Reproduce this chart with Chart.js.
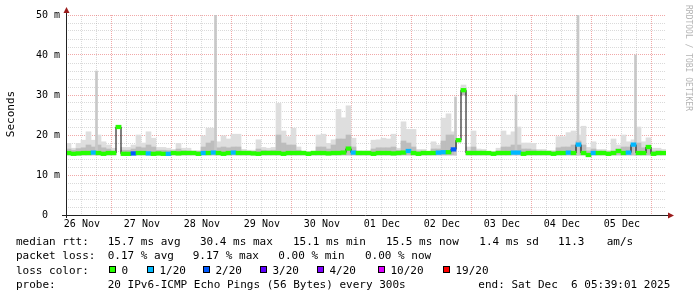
<!DOCTYPE html>
<html>
<head>
<meta charset="utf-8">
<script src="https://cdn.jsdelivr.net/npm/chart.js@4.4.1/dist/chart.umd.min.js"></script>
<style>
  html, body { margin: 0; padding: 0; background: #fff; }
  canvas { display: block; }
</style>
</head>
<body>
<canvas id="chart" width="697" height="297"></canvas>
<script>
// 10 day window ending Sat Dec 6 05:39:01 2025; x axis is hours since the start
const spanHours = 240;
const binHours = 2;
const firstNoon = 6.35; // 26 Nov 12:00
const dayLabels = ['26 Nov', '27 Nov', '28 Nov', '29 Nov', '30 Nov', '01 Dec', '02 Dec', '03 Dec', '04 Dec', '05 Dec'];

// smoke per 2h bin (ms): lowest ping, inner quantile, highest ping
const smokeLow = [
  15, 15, 15, 15, 15, 15, 15, 15, 15, 15,
  21.6, 15, 15, 15, 15, 15, 15, 15, 15, 15,
  15, 15, 15, 15, 15, 15, 15, 15, 15, 15,
  15, 15, 15, 15, 15, 15, 15, 15, 15, 15,
  15, 15, 15, 15, 15, 15, 15, 15, 15, 15,
  15, 15, 15, 15, 15, 15, 15, 15, 15, 15,
  15, 15, 15, 15, 15, 15, 15, 15, 15, 15,
  15, 15, 15, 15, 15, 15, 15, 15, 18.3, 30,
  15, 15, 15, 15, 15, 15, 15, 15, 15, 15,
  15, 15, 15, 15, 15, 15, 15, 15, 15, 15,
  15, 15, 15, 15, 15, 15, 15, 15, 15, 15,
  15, 15, 15, 15, 15, 15, 15, 15, 15, 15
];
const smokeMid = [
  16.5, 16.2, 16.6, 16.8, 17.5, 17.0, 17.5, 16.8, 16.5, 16.0,
  22.3, 16.2, 16.2, 16.5, 17.0, 16.8, 17.5, 17.0, 16.2, 16.2,
  16.1, 16.0, 16.5, 16.1, 16.0, 15.9, 15.9, 17.0, 18.0, 18.5,
  16.8, 17.0, 16.8, 17.0, 17.0, 16.0, 15.9, 15.9, 16.5, 16.2,
  16.1, 16.2, 20.0, 18.0, 17.5, 17.5, 16.2, 15.8, 15.7, 15.8,
  17.0, 17.0, 16.5, 17.5, 19.0, 19.0, 20.0, 17.0, 15.8, 15.8,
  15.8, 16.5, 16.8, 16.8, 16.8, 17.0, 16.2, 18.5, 18.0, 17.0,
  16.0, 16.0, 15.7, 16.5, 16.5, 18.5, 20.0, 20.0, 18.9, 31.5,
  16.0, 17.0, 16.0, 16.0, 15.7, 15.7, 16.0, 17.0, 17.0, 17.5,
  17.5, 16.5, 16.5, 16.3, 16.0, 16.0, 15.8, 15.8, 16.8, 17.0,
  17.0, 17.5, 18.5, 17.5, 16.0, 16.5, 16.0, 16.0, 15.8, 16.0,
  16.5, 17.0, 17.0, 17.5, 18.0, 16.8, 17.0, 16.0, 16.0, 15.9
];
const smokeMax = [
  17.9, 16.7, 17.9, 18.7, 20.8, 18.7, 20.0, 18.3, 17.5, 16.7,
  22.4, 16.9, 16.9, 17.5, 20.0, 18.0, 20.8, 19.2, 16.9, 16.9,
  16.7, 16.4, 17.9, 16.7, 16.7, 16.1, 16.1, 19.8, 21.7, 21.7,
  18.3, 19.8, 19.0, 20.2, 20.2, 16.4, 16.2, 16.2, 18.8, 16.9,
  16.7, 16.9, 27.9, 21.0, 19.6, 21.7, 17.0, 16.0, 15.9, 16.0,
  20.0, 20.2, 17.9, 18.8, 26.4, 24.3, 27.3, 19.2, 16.1, 16.1,
  16.1, 18.7, 18.8, 19.2, 19.0, 20.2, 16.7, 23.3, 21.4, 21.4,
  16.4, 16.4, 15.9, 18.3, 17.5, 24.2, 25.3, 20.8, 19.0, 32.5,
  17.0, 21.0, 16.5, 16.4, 15.9, 15.9, 16.7, 21.0, 20.0, 20.8,
  22.0, 18.0, 18.0, 17.9, 16.4, 16.4, 16.1, 16.1, 19.6, 19.6,
  20.6, 21.0, 20.0, 22.2, 16.9, 18.3, 16.4, 16.4, 16.1, 19.0,
  17.5, 20.0, 18.3, 18.8, 22.0, 18.3, 19.3, 16.7, 16.7, 16.4
];
const median = [
  15.5, 15.3, 15.4, 15.5, 15.5, 15.6, 15.5, 15.3, 15.5, 15.5,
  22.0, 15.3, 15.3, 15.4, 15.5, 15.5, 15.4, 15.3, 15.4, 15.3,
  15.3, 15.5, 15.4, 15.5, 15.5, 15.5, 15.3, 15.5, 15.5, 15.6,
  15.5, 15.3, 15.5, 15.6, 15.5, 15.5, 15.5, 15.4, 15.3, 15.5,
  15.5, 15.5, 15.5, 15.3, 15.5, 15.5, 15.5, 15.5, 15.3, 15.5,
  15.5, 15.5, 15.4, 15.5, 15.5, 15.6, 16.6, 15.6, 15.5, 15.5,
  15.5, 15.3, 15.5, 15.5, 15.5, 15.4, 15.5, 15.6, 16.0, 15.5,
  15.3, 15.5, 15.5, 15.5, 15.6, 15.7, 15.7, 16.4, 18.7, 31.2,
  15.5, 15.5, 15.5, 15.5, 15.5, 15.3, 15.5, 15.5, 15.5, 15.6,
  15.6, 15.3, 15.5, 15.5, 15.5, 15.5, 15.5, 15.3, 15.5, 15.5,
  15.6, 15.5, 17.6, 15.5, 15.0, 15.5, 15.5, 15.5, 15.3, 15.5,
  16.0, 15.5, 15.6, 17.6, 15.5, 15.5, 17.0, 15.3, 15.5, 15.5
];
// packet loss level per bin, index into lossLabels
const loss = [
  0, 0, 0, 0, 0, 1, 0, 0, 0, 0,
  0, 0, 0, 2, 0, 0, 1, 0, 0, 0,
  1, 0, 0, 0, 0, 0, 0, 1, 0, 1,
  0, 0, 0, 1, 0, 0, 0, 0, 0, 0,
  0, 0, 0, 0, 0, 0, 0, 0, 0, 0,
  0, 0, 0, 0, 0, 0, 0, 1, 0, 0,
  0, 0, 0, 0, 0, 0, 0, 0, 1, 0,
  0, 0, 0, 0, 1, 1, 0, 2, 0, 0,
  0, 0, 0, 0, 0, 0, 0, 0, 0, 1,
  1, 0, 0, 0, 0, 0, 0, 0, 0, 0,
  1, 0, 1, 0, 0, 1, 0, 0, 0, 0,
  0, 0, 1, 1, 0, 0, 0, 0, 0, 0
];

// single high pings
const spikeHours = [12.2, 59.8, 155.8, 180.0, 204.8, 227.8];
const spikeTop = [36, 50, 29.5, 30, 50, 40];

const lossLabels = ['0', '1/20', '2/20', '3/20', '4/20', '10/20', '19/20'];
const lossColors = ['#26ff00', '#00b8ff', '#0059ff', '#5e00ff', '#7e00ff', '#dd00ff', '#ff0000'];

const rttStats = ['15.7 ms avg', '30.4 ms max', '15.1 ms min', '15.5 ms now', '1.4 ms sd', '11.3', 'am/s'];
const lossStats = ['0.17 % avg', '9.17 % max', '0.00 % min', '0.00 % now'];
const probeText = '20 IPv6-ICMP Echo Pings (56 Bytes) every 300s';
const endText = 'end: Sat Dec  6 05:39:01 2025';

const mono = '"DejaVu Sans Mono", "Liberation Mono", monospace';
const minorGrid = 'rgba(143,143,143,0.33)';
const majorGrid = 'rgba(222,48,48,0.42)';

const centers = smokeMax.map((_, i) => binHours * i + binHours / 2);
const tickHours = [];
for (let h = firstNoon - 6; h < spanHours; h += 6) tickHours.push(h);

const rrdText = {
  id: 'rrdText',
  afterDraw(chart) {
    const ctx = chart.ctx;
    const a = chart.chartArea;
    ctx.save();

    // axes with arrows
    ctx.strokeStyle = '#222';
    ctx.lineWidth = 1;
    ctx.beginPath();
    ctx.moveTo(a.left + 0.5, a.top - 3);
    ctx.lineTo(a.left + 0.5, a.bottom + 3);
    ctx.moveTo(a.left - 4, a.bottom + 0.5);
    ctx.lineTo(a.right + 3, a.bottom + 0.5);
    ctx.stroke();
    ctx.fillStyle = '#9b1c1c';
    ctx.beginPath();
    ctx.moveTo(a.left - 2.5, a.top - 2);
    ctx.lineTo(a.left + 0.5, a.top - 8);
    ctx.lineTo(a.left + 3.5, a.top - 2);
    ctx.fill();
    ctx.beginPath();
    ctx.moveTo(a.right + 2, a.bottom - 2.5);
    ctx.lineTo(a.right + 8, a.bottom + 0.5);
    ctx.lineTo(a.right + 2, a.bottom + 3.5);
    ctx.fill();

    // axis title
    ctx.fillStyle = '#000';
    ctx.font = '11px ' + mono;
    ctx.save();
    ctx.translate(11, 114);
    ctx.rotate(-Math.PI / 2);
    ctx.textAlign = 'center';
    ctx.textBaseline = 'middle';
    ctx.fillText('Seconds', 0, 0);
    ctx.restore();

    // watermark
    ctx.save();
    ctx.translate(688, 5);
    ctx.rotate(Math.PI / 2);
    ctx.fillStyle = '#b4b4b4';
    ctx.font = '8px ' + mono;
    ctx.textBaseline = 'middle';
    ctx.fillText('RRDTOOL / TOBI OETIKER', 0, 0);
    ctx.restore();

    // legend block
    const rows = [245, 259.3, 273.6, 288];
    ctx.font = '11px ' + mono;
    ctx.textBaseline = 'alphabetic';
    ctx.fillText('median rtt:', 16, rows[0]);
    const rttX = [107.7, 200, 293, 386, 479.3, 558, 606.7];
    rttStats.forEach((t, i) => ctx.fillText(t, rttX[i], rows[0]));

    ctx.fillText('packet loss:', 16, rows[1]);
    const lossX = [107.7, 192.7, 278.3, 365];
    lossStats.forEach((t, i) => ctx.fillText(t, lossX[i], rows[1]));

    ctx.fillText('loss color:', 16, rows[2]);
    const boxX = [109, 146.7, 203.3, 260, 316.7, 378.3, 442.7];
    lossLabels.forEach((t, i) => {
      const bx = Math.round(boxX[i]);
      ctx.fillStyle = lossColors[i];
      ctx.fillRect(bx, 266, 7, 7);
      ctx.strokeStyle = '#000';
      ctx.strokeRect(bx + 0.5, 266.5, 6, 6);
      ctx.fillStyle = '#000';
      ctx.fillText(t, bx + 12.5, rows[2]);
    });

    ctx.fillText('probe:', 16, rows[3]);
    ctx.fillText(probeText, 107.7, rows[3]);
    ctx.fillText(endText, 478.3, rows[3]);
    ctx.restore();
  }
};

new Chart(document.getElementById('chart'), {
  type: 'bar',
  data: {
    datasets: [
      {
        label: 'median',
        data: centers.map((x, i) => ({ x, y: [median[i] - 0.45, median[i] + 0.45] })),
        backgroundColor: loss.map(l => lossColors[l]),
        barThickness: 5,
        grouped: false,
        order: 0
      },
      {
        type: 'line',
        label: 'median line',
        data: centers.map((x, i) => ({ x, y: median[i] })),
        stepped: 'middle',
        borderColor: '#000',
        borderWidth: 1,
        pointRadius: 0,
        order: 1
      },
      {
        label: 'spikes',
        data: spikeHours.map((x, i) => ({ x, y: [15, spikeTop[i]] })),
        backgroundColor: '#c8c8c8',
        barThickness: 2,
        grouped: false,
        order: 2
      },
      {
        label: 'smoke inner',
        data: centers.map((x, i) => ({ x, y: [smokeLow[i], smokeMid[i]] })),
        backgroundColor: '#bdbdbd',
        barThickness: 5,
        grouped: false,
        order: 3
      },
      {
        label: 'smoke',
        data: centers.map((x, i) => ({ x, y: [smokeLow[i], smokeMax[i]] })),
        backgroundColor: '#dedede',
        barThickness: 5,
        grouped: false,
        order: 4
      }
    ]
  },
  options: {
    responsive: false,
    animation: false,
    events: [],
    devicePixelRatio: 1,
    layout: { padding: { top: 15, right: 31, bottom: 62, left: 0 } },
    plugins: { legend: { display: false }, tooltip: { enabled: false } },
    scales: {
      x: {
        type: 'linear',
        min: 0,
        max: spanHours,
        offset: false,
        afterBuildTicks: s => { s.ticks = tickHours.map(v => ({ value: v })); },
        afterFit: s => { s.height = 20; },
        ticks: {
          autoSkip: false,
          maxRotation: 0,
          padding: 3,
          color: '#000',
          font: { family: mono, size: 10 },
          callback: (v, i) => (i % 4 === 1 ? dayLabels[(i - 1) / 4] : '')
        },
        grid: {
          offset: false,
          drawTicks: false,
          color: c => (c.index % 4 === 3 ? majorGrid : minorGrid)
        },
        border: { display: false, dash: [1, 1] }
      },
      y: {
        min: 0,
        max: 50,
        afterFit: s => { s.width = 66; },
        ticks: {
          stepSize: 2,
          autoSkip: false,
          padding: 6,
          color: '#000',
          font: { family: mono, size: 10 },
          callback: v => (v % 10 ? '' : (v === 0 ? '0  ' : v + ' m'))
        },
        grid: {
          drawTicks: false,
          color: c => (c.tick && c.tick.value % 10 === 0 ? majorGrid : minorGrid)
        },
        border: { display: false, dash: [1, 1] }
      }
    }
  },
  plugins: [rrdText]
});
</script>
</body>
</html>
